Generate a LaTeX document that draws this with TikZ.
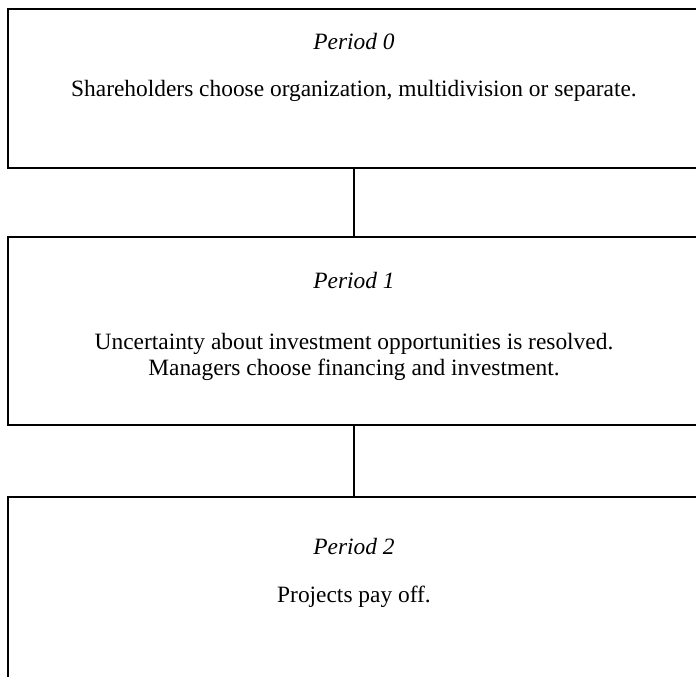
\documentclass[tikz,border=0pt]{standalone}
\usepackage{fontspec}
\setmainfont{Liberation Serif}
\usetikzlibrary{positioning}

\tikzset{
  periodBox/.style={draw, line width=1pt, minimum width=346pt, inner sep=0pt},
  periodTitle/.style={font=\fontsize{11.7}{13}\selectfont\itshape, inner sep=0pt, anchor=base},
  periodText/.style={font=\fontsize{11.7}{13}\selectfont, align=center, inner sep=0pt, anchor=base},
  stageLink/.style={line width=1pt}
}

\begin{document}
\begin{tikzpicture}[x=0.5pt, y=-0.5pt]

    \useasboundingbox (0,0) rectangle (696,676);
    \clip (0,0) rectangle (696,676);

    % Boxes
    \node[periodBox, minimum height=79.5pt] (p0) at (354, 88.5) {};
    \node[periodBox, minimum height=94pt] (p1) at (354, 331) {};
    \node[periodBox, minimum height=100pt] (p2) at (354, 597) {};

    % Period 0
    \node[periodTitle] (t0) at (354, 49) {Period 0};
    \node[periodText] (d0) at (354, 96) {Shareholders choose organization, multidivision or separate.};

    % Period 1
    \node[periodTitle] (t1) at (354, 288) {Period 1};
    \node[periodText] (d1) at (354, 375) {Uncertainty about investment opportunities is resolved.\\Managers choose financing and investment.};

    % Period 2
    \node[periodTitle] (t2) at (354, 554) {Period 2};
    \node[periodText] (d2) at (354, 602) {Projects pay off.};

    % Links
    \draw[stageLink] (p0.south) -- (p1.north);
    \draw[stageLink] (p1.south) -- (p2.north);

\end{tikzpicture}
\end{document}
